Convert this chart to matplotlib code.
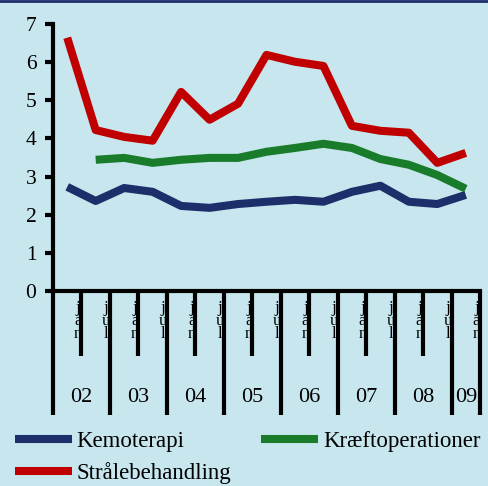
import matplotlib
matplotlib.use('Agg')
import matplotlib.pyplot as plt
import matplotlib.transforms as mtransforms
import numpy as np

# half-year observations, jan 2002 - jan 2009
months = ['jan', 'jul'] * 7 + ['jan']
years = ['02', '03', '04', '05', '06', '07', '08', '09']

kemoterapi = [2.73, 2.36, 2.70, 2.60, 2.23, 2.18, 2.28, 2.34, 2.39, 2.34, 2.60, 2.76, 2.34, 2.28, 2.52]
kraeftoperationer = [np.nan, 3.44, 3.49, 3.36, 3.44, 3.49, 3.49, 3.65, 3.75, 3.86, 3.75, 3.46, 3.31, 3.04, 2.68]
straalebehandling = [6.64, 4.22, 4.04, 3.94, 5.22, 4.49, 4.91, 6.19, 6.01, 5.90, 4.33, 4.20, 4.15, 3.36, 3.62]

bg = '#C8E6EE'
plt.rcParams['font.family'] = ['Liberation Serif', 'DejaVu Serif']

fig = plt.figure(figsize=(4.89, 4.86), dpi=100, facecolor=bg)
ax = fig.add_axes([53 / 489, 1 - 291 / 486, 427 / 489, 267 / 486])
ax.set_facecolor(bg)

x = np.arange(len(months))
l1, = ax.plot(x, kemoterapi, color='#1C2F6A', lw=5.8, solid_capstyle='butt', label='Kemoterapi')
l2, = ax.plot(x, kraeftoperationer, color='#187C2A', lw=5.8, solid_capstyle='butt', label='Kræftoperationer')
l3, = ax.plot(x, straalebehandling, color='#C00000', lw=5.8, solid_capstyle='butt', label='Strålebehandling')

ax.set_xlim(-0.5, len(months) - 0.5)
ax.set_ylim(0, 7)
ax.set_yticks(range(8))
ax.tick_params(axis='y', labelsize=15.5, length=6, width=3, direction='out', pad=6)

for s in ['top', 'right']:
    ax.spines[s].set_visible(False)
for s in ['left', 'bottom']:
    ax.spines[s].set_linewidth(3)

# long ticks at year boundaries, short ticks at mid-year
year_edges = [-0.5 + 2 * i for i in range(8)] + [len(months) - 0.5]
mid_edges = [0.5 + 2 * i for i in range(7)]
ax.set_xticks(year_edges)
ax.set_xticklabels([])
ax.set_xticks(mid_edges, minor=True)
ax.tick_params(axis='x', which='major', length=89, width=3, direction='out')
ax.tick_params(axis='x', which='minor', length=47, width=3, direction='out')

trans = mtransforms.blended_transform_factory(ax.transData, ax.transAxes)
for i, m in enumerate(months):
    ax.text(i + 0.37, -0.035, '\n'.join(m), transform=trans, ha='center', va='top',
            fontsize=12, linespacing=0.75)
for i, yr in enumerate(years):
    lo = year_edges[i]
    hi = year_edges[i + 1]
    ax.text((lo + hi) / 2, -0.40, yr, transform=trans, ha='center', va='center', fontsize=16)

# top border
fig.add_artist(plt.Line2D([0, 1], [0.998, 0.998], transform=fig.transFigure, color='#1C2F6A', lw=2))

fig.legend(handles=[l1, l3, l2], loc='upper left', bbox_to_anchor=(0.03, 0.113), ncol=2, frameon=False,
           fontsize=16.5, handlelength=2.5, handletextpad=0.2, columnspacing=1.3,
           labelspacing=0.45, borderaxespad=0, borderpad=0)

fig.savefig('out.png', dpi=100, facecolor=bg)
